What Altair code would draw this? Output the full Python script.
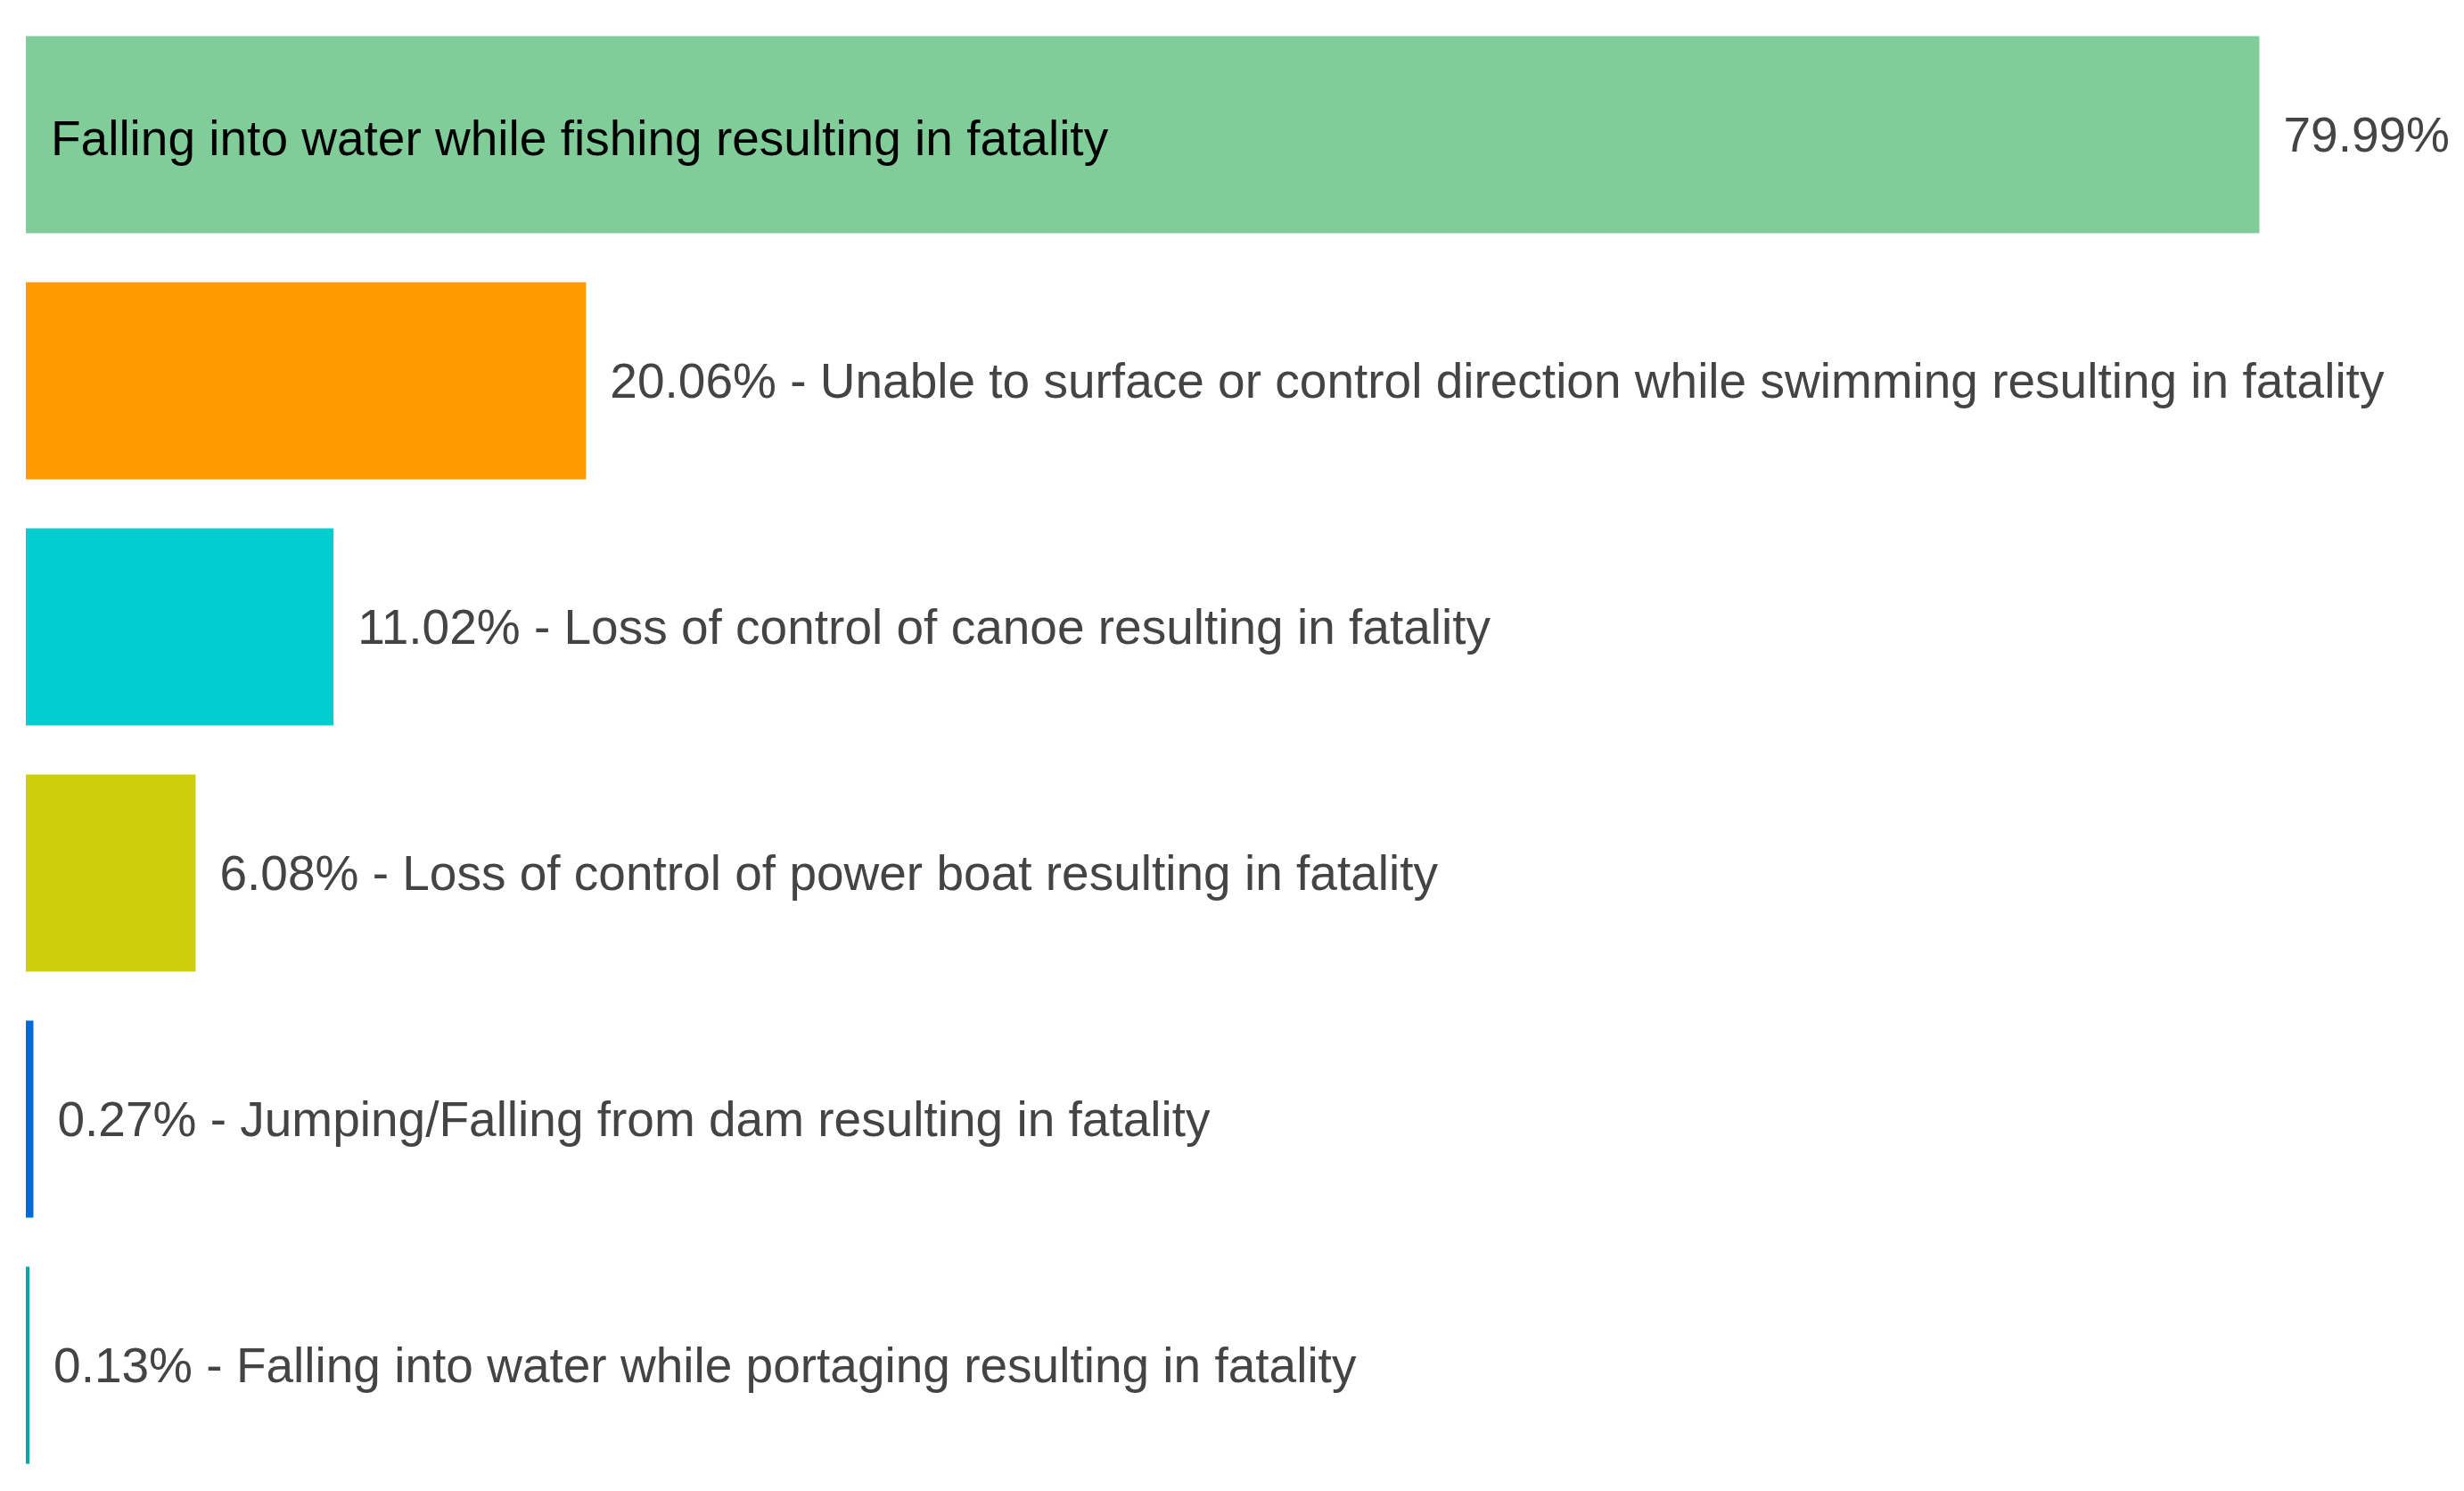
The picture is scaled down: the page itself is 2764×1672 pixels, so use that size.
import altair as alt
import pandas as pd

categories = [
    "Falling into water while fishing resulting in fatality",
    "Unable to surface or control direction while swimming resulting in fatality",
    "Loss of control of canoe resulting in fatality",
    "Loss of control of power boat resulting in fatality",
    "Jumping/Falling from dam resulting in fatality",
    "Falling into water while portaging resulting in fatality",
]
values = [79.99, 20.06, 11.02, 6.08, 0.27, 0.13]
colors = ["#80CD99", "#FF9A00", "#00CDCD", "#CDCD0C", "#0068D8", "#00A8AA"]

outer_labels = []
inner_labels = []
for i, (c, v) in enumerate(zip(categories, values)):
    if i == 0:
        outer_labels.append(f"{v:.2f}%")
        inner_labels.append(c)
    else:
        outer_labels.append(f"{v:.2f}% - {c}")
        inner_labels.append("")

df = pd.DataFrame({
    "cat": categories,
    "val": values,
    "color": colors,
    "outer": outer_labels,
    "inner": inner_labels,
})

FONT = "Liberation Sans, Arial, sans-serif"

base = alt.Chart(df).encode(
    y=alt.Y("cat:N", sort=categories, axis=None,
            scale=alt.Scale(paddingInner=0.2, paddingOuter=0.1))
)

xscale = alt.Scale(domain=[0, 86.2], nice=False, zero=True)

bars = base.mark_bar(strokeWidth=0).encode(
    x=alt.X("val:Q", scale=xscale, axis=None),
    color=alt.Color("color:N", scale=None),
)

outer = base.mark_text(
    align="left", baseline="middle", dx=27, dy=2,
    font=FONT, fontSize=55, color="#444444",
).encode(
    x=alt.X("val:Q", scale=xscale, axis=None),
    text="outer:N",
)

inner = base.transform_filter(alt.datum.inner != "").mark_text(
    align="left", baseline="middle", dx=28, dy=6,
    font=FONT, fontSize=55, color="#000000",
).encode(
    x=alt.value(0),
    text="inner:N",
)

chart = (bars + outer + inner).properties(
    width=2700,
    height=1656,
    padding={"left": 21, "top": 5, "right": 0, "bottom": 0},
).configure_view(strokeWidth=0)

chart.save("out.html", embed_options={"renderer": "svg", "actions": False})
